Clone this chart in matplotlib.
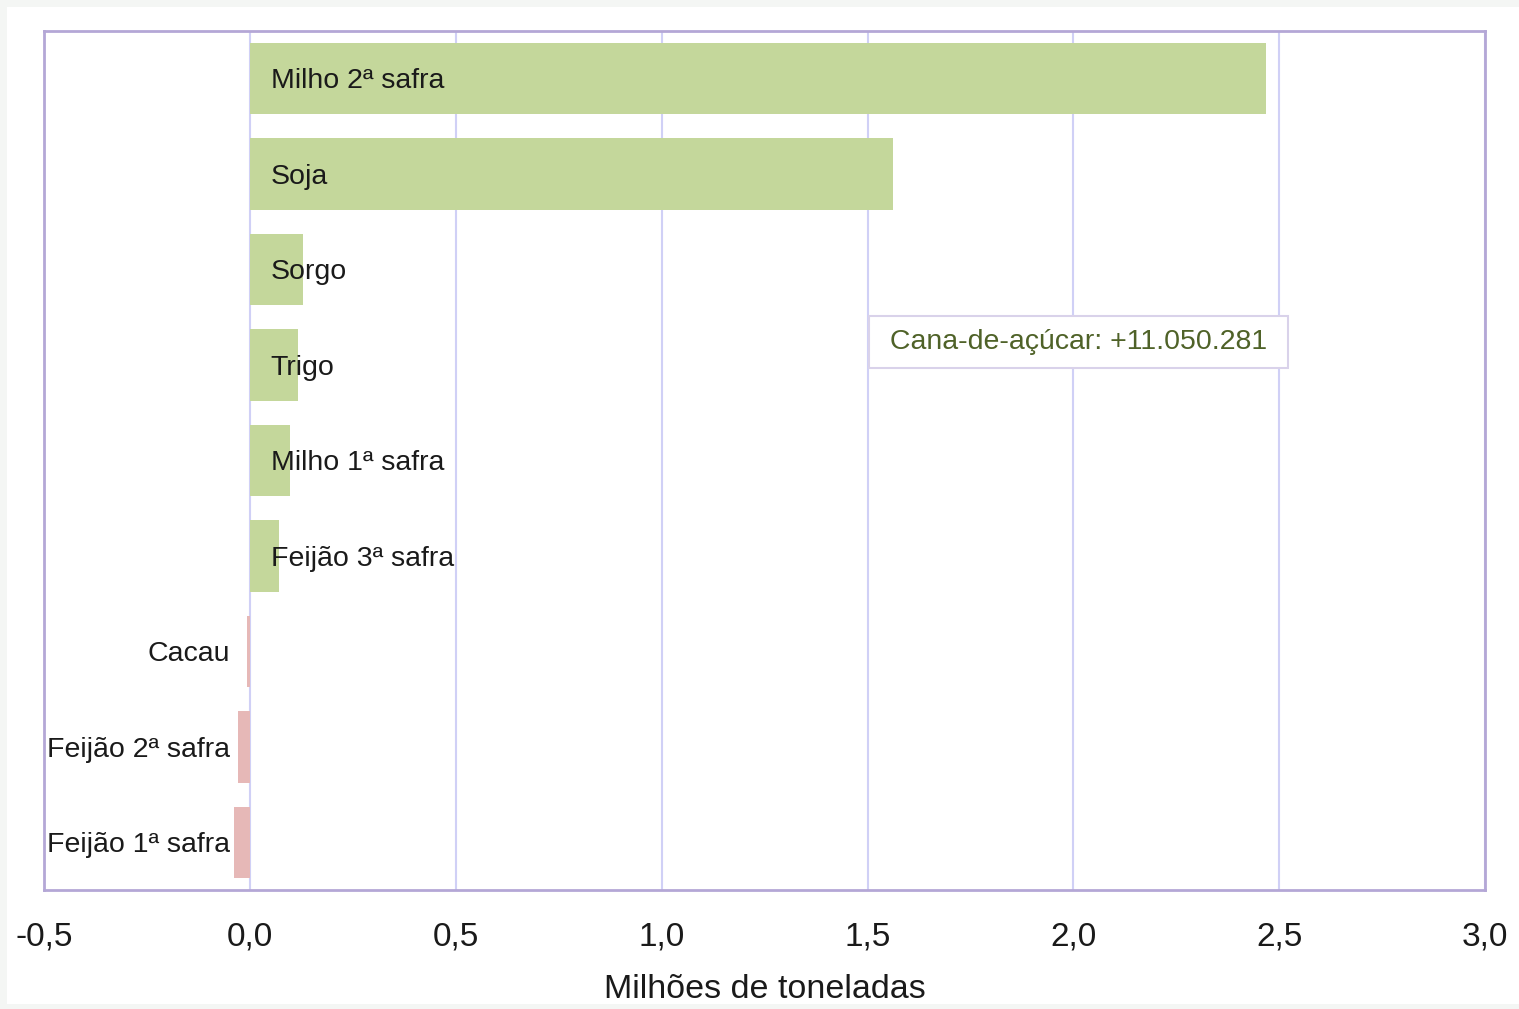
import matplotlib
matplotlib.use("Agg")
import matplotlib.pyplot as plt
from matplotlib.patches import Rectangle
from matplotlib.ticker import FuncFormatter, MultipleLocator

plt.rcParams['font.family'] = ['Liberation Sans', 'DejaVu Sans']

# data (millions of tonnes, change vs previous)
culturas = ['Milho 2ª safra', 'Soja', 'Sorgo', 'Trigo', 'Milho 1ª safra',
            'Feijão 3ª safra', 'Cacau', 'Feijão 2ª safra', 'Feijão 1ª safra']
variacao = [2.468, 1.561, 0.129, 0.117, 0.097, 0.070, -0.007, -0.029, -0.039]
nota = 'Cana-de-açúcar: +11.050.281'

verde = '#c4d79b'
vermelho = '#e6b8b7'
roxo = '#b4a7d6'
grade = '#d0d0f6'
texto = '#1a1a1a'

fig = plt.figure(figsize=(15.19, 10.09), dpi=100, facecolor='#f4f6f4')
# white card behind the chart
fig.patches.append(Rectangle((7 / 1519, 5 / 1009), 1 - 7 / 1519, 1 - 12 / 1009,
                             transform=fig.transFigure, facecolor='white',
                             edgecolor='none', zorder=-5))

ax = fig.add_axes([0.029, 0.1179, 0.9487, 0.8514])
ax.set_facecolor('white')

ypos = list(range(len(culturas)))
cores = [verde if v >= 0 else vermelho for v in variacao]
ax.barh(ypos, variacao, height=0.75, color=cores, zorder=2)

for y, nome, v in zip(ypos, culturas, variacao):
    if v >= 0:
        ax.annotate(nome, (0, y), xytext=(15, -2), textcoords='offset points',
                    ha='left', va='center', fontsize=20.5, color=texto, zorder=3)
    else:
        ax.annotate(nome, (0, y), xytext=(-14, -2), textcoords='offset points',
                    ha='right', va='center', fontsize=20.5, color=texto, zorder=3)

ax.text(2.012, 2.76, ' ' + nota + ' ', ha='center', va='center', fontsize=20.5,
        color='#4f6228', zorder=4,
        bbox=dict(boxstyle='square,pad=0.45', facecolor='white',
                  edgecolor='#d9d2ea', linewidth=1.5))

ax.set_xlim(-0.5, 3.0)
ax.set_ylim(8.5, -0.5)
ax.xaxis.set_major_locator(MultipleLocator(0.5))
ax.xaxis.set_major_formatter(FuncFormatter(lambda v, p: f'{v:.1f}'.replace('.', ',')))
ax.set_yticks([])
ax.tick_params(axis='x', length=0, pad=23, labelsize=24, labelcolor=texto)
ax.grid(axis='x', color=grade, linewidth=1.5, zorder=1)
ax.set_axisbelow(True)
for s in ax.spines.values():
    s.set_color(roxo)
    s.set_linewidth(2)

ax.set_xlabel('Milhões de toneladas', fontsize=24.5, color=texto, labelpad=15)

fig.savefig('out.png', dpi=100, facecolor=fig.get_facecolor())
